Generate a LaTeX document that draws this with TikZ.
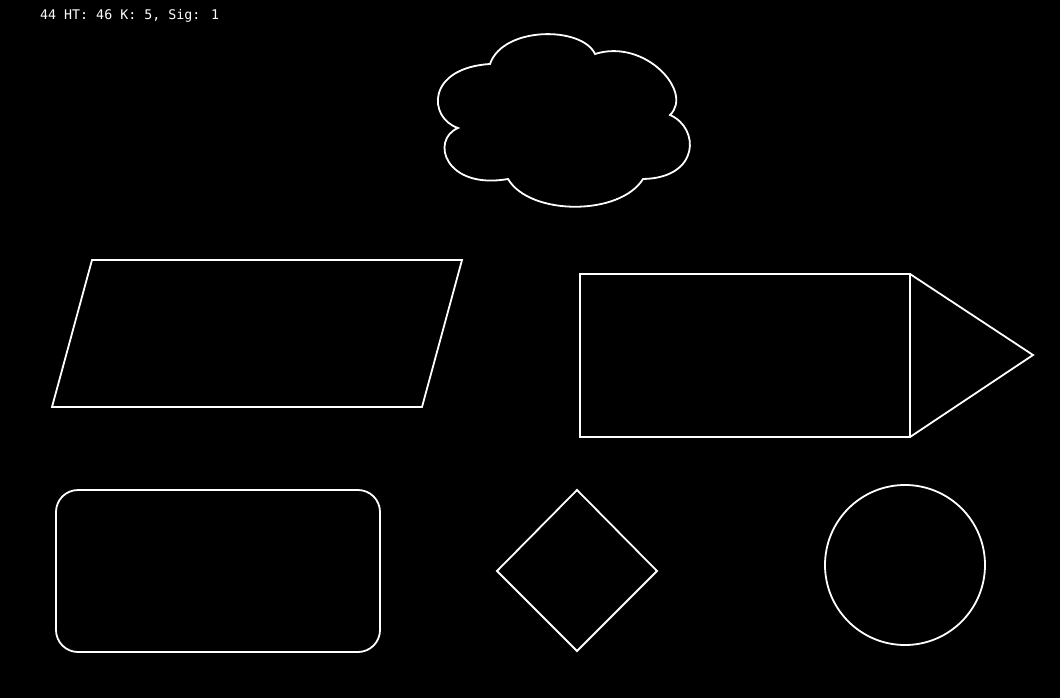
\documentclass[tikz,border=0pt]{standalone}
\usepackage{fontspec}
\newfontfamily\labelfont{DejaVu Sans Mono}
\begin{document}
\begin{tikzpicture}[x=1pt,y=-1pt,
  shapeline/.style={draw=white,line width=1.8pt,line join=miter},
  info/.style={text=white,font=\labelfont\fontsize{13.3}{14}\selectfont,anchor=west,inner sep=0pt}]
\fill[black] (0,0) rectangle (1060,698);
\useasboundingbox (0,0) rectangle (1060,698);
\node[info] (caption) at (40,16) {44 HT: 46 K: 5, Sig: 1};
% cloud
\draw[shapeline] (458,128) .. controls (428,118) and (426,68) .. (490,64)
  .. controls (503,26) and (582,26) .. (595,54)
  .. controls (645,38) and (694,92) .. (670,115)
  .. controls (700,128) and (700,178) .. (643,179)
  .. controls (620,216) and (530,216) .. (508,179)
  .. controls (445,190) and (430,140) .. cycle;
% parallelogram
\draw[shapeline] (92,260) -- (462,260) -- (422,407) -- (52,407) -- cycle;
% rectangle with triangle
\draw[shapeline] (580,274) rectangle (910,437);
\draw[shapeline] (910,274) -- (1033,355) -- (910,437);
% rounded rectangle
\draw[shapeline,rounded corners=22pt] (56,490) rectangle (380,652);
% diamond
\draw[shapeline] (577,490) -- (657,571) -- (577,651) -- (497,571) -- cycle;
% circle
\draw[shapeline] (905,565) circle[radius=80];
\end{tikzpicture}
\end{document}
